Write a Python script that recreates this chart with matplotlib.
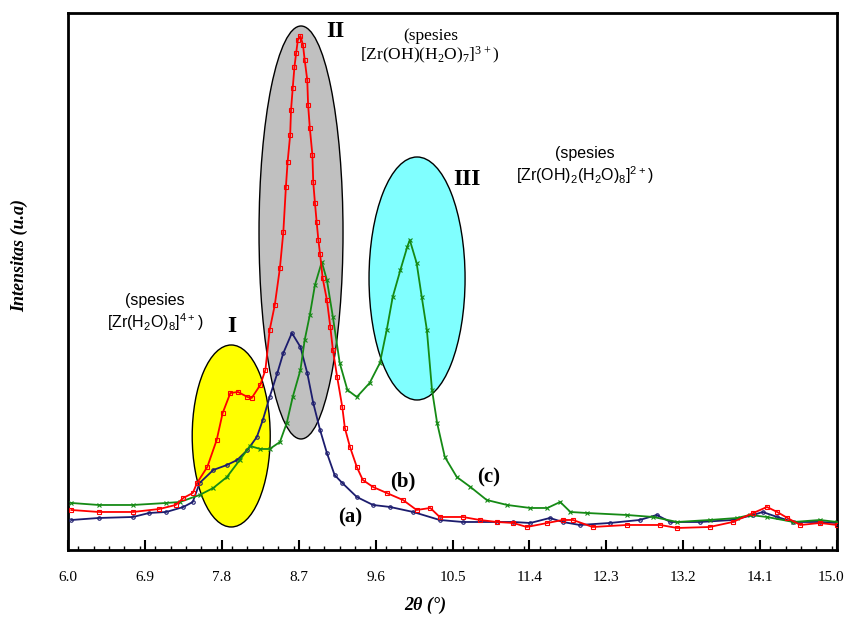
import matplotlib
matplotlib.use('Agg')
import matplotlib.pyplot as plt
import matplotlib.transforms as mtransforms
import numpy as np
from matplotlib.patches import Ellipse
from matplotlib.ticker import MultipleLocator

# 2-theta (deg) and intensity (a.u.)
x_a = [6.04, 6.36, 6.76, 6.95, 7.15, 7.35, 7.46, 7.54, 7.70, 7.86, 7.98, 8.10, 8.21, 8.28,
       8.36, 8.45, 8.52, 8.62, 8.72, 8.80, 8.87, 8.95, 9.03, 9.12, 9.21, 9.38, 9.57, 9.77,
       10.04, 10.35, 10.62, 11.02, 11.21, 11.41, 11.64, 11.79, 11.99, 12.34, 12.69, 12.89,
       13.05, 13.40, 13.78, 14.02, 14.13, 14.30, 14.49, 14.80, 15.0]
y_a = [30, 32, 33, 37, 38, 43, 48, 67, 80, 85, 90, 100, 113, 130,
       153, 177, 197, 217, 203, 177, 147, 120, 97, 75, 67, 53, 45, 43,
       38, 30, 28, 28, 28, 27, 32, 28, 25, 27, 30, 35,
       28, 28, 30, 35, 38, 33, 28, 28, 27]

x_b = [6.04, 6.36, 6.76, 7.07, 7.26, 7.35, 7.46, 7.51, 7.63, 7.74, 7.81, 7.90, 7.99, 8.10,
       8.15, 8.25, 8.31, 8.36, 8.42, 8.48, 8.52, 8.55, 8.57, 8.60, 8.61, 8.63, 8.65, 8.67,
       8.69, 8.72, 8.75, 8.77, 8.80, 8.81, 8.83, 8.86, 8.87, 8.89, 8.91, 8.93, 8.95, 8.98,
       9.03, 9.07, 9.10, 9.15, 9.21, 9.24, 9.30, 9.38, 9.45, 9.57, 9.73, 9.92, 10.08, 10.24,
       10.35, 10.62, 10.82, 11.02, 11.21, 11.37, 11.61, 11.79, 11.91, 12.14, 12.54, 12.93,
       13.13, 13.51, 13.78, 14.02, 14.18, 14.30, 14.42, 14.57, 14.80, 15.0]
y_b = [40, 38, 38, 41, 45, 52, 57, 67, 83, 110, 137, 157, 158, 153,
       152, 165, 180, 220, 245, 282, 318, 363, 388, 415, 440, 462, 483, 497,
       510, 514, 505, 490, 470, 445, 422, 395, 368, 347, 328, 310, 296, 272,
       250, 223, 200, 173, 143, 122, 103, 83, 70, 63, 57, 50, 40, 42,
       33, 33, 30, 28, 27, 23, 27, 30, 30, 23, 25, 25,
       22, 23, 28, 37, 43, 38, 32, 25, 27, 25]

x_c = [6.04, 6.36, 6.76, 7.15, 7.31, 7.54, 7.70, 7.86, 8.01, 8.13, 8.25, 8.36, 8.48, 8.56,
       8.63, 8.72, 8.77, 8.83, 8.89, 8.97, 9.03, 9.10, 9.18, 9.27, 9.38, 9.53, 9.65, 9.73,
       9.80, 9.89, 9.97, 10.00, 10.08, 10.14, 10.20, 10.26, 10.32, 10.41, 10.55, 10.71,
       10.90, 11.14, 11.41, 11.61, 11.76, 11.88, 12.07, 12.54, 12.85, 13.13, 13.51, 13.83,
       13.98, 14.18, 14.49, 14.80, 15.0]
y_c = [47, 45, 45, 47, 48, 55, 62, 73, 90, 104, 101, 101, 108, 127,
       153, 180, 210, 235, 265, 288, 270, 233, 187, 160, 153, 167, 187, 220,
       253, 280, 303, 310, 287, 253, 220, 160, 127, 93, 73, 63,
       50, 45, 42, 42, 48, 38, 37, 35, 33, 28, 30, 32,
       35, 33, 28, 30, 28]

ticks = [6.0, 6.9, 7.8, 8.7, 9.6, 10.5, 11.4, 12.3, 13.2, 14.1, 15.0]

fig = plt.figure(figsize=(8.47, 6.19), dpi=100)
ax = fig.add_axes([0.0803, 0.1115, 0.9079, 0.8675])

# highlighted regions
ax.add_patch(Ellipse((7.91, 114), 0.913, 182, facecolor='#ffff00', edgecolor='black', lw=1, zorder=1))
ax.add_patch(Ellipse((8.727, 317.5), 0.983, 413, facecolor='#c0c0c0', edgecolor='black', lw=1, zorder=1))
ax.add_patch(Ellipse((10.085, 271.5), 1.124, 243, facecolor='#80ffff', edgecolor='black', lw=1, zorder=1))

ax.plot(x_a, y_a, color='#1c1c6e', lw=1.3, marker='o', ms=2.5, mfc='none', mew=0.8, zorder=3)
ax.plot(x_c, y_c, color='#158a15', lw=1.3, marker='x', ms=3, mew=0.8, zorder=3)
ax.plot(x_b, y_b, color='#ff0000', lw=1.3, marker='s', ms=2.5, mfc='none', mew=0.8, zorder=4)

ax.set_xlim(6.0, 15.0)
ax.set_ylim(0, 537)
ax.set_xticks(ticks)
ax.set_xticklabels(['%.1f' % t for t in ticks], family='Liberation Serif', fontsize=11)
ax.xaxis.set_minor_locator(MultipleLocator(0.18))
ax.tick_params(axis='x', which='major', direction='in', length=7, width=1.5, pad=15)
ax.tick_params(axis='x', which='minor', direction='in', length=3, width=1)
ax.set_yticks([])
for s in ax.spines.values():
    s.set_linewidth(2)

# last tick label sits right at the figure edge, nudge it in a little
last = ax.get_xticklabels()[-1]
last.set_transform(last.get_transform() + mtransforms.ScaledTranslation(-6 / 100, 0, fig.dpi_scale_trans))

serif = 'Liberation Serif'
sans = 'Liberation Sans'
ax.text(9.125, 518, 'II', family=serif, fontsize=17, fontweight='bold', ha='center', va='center')
ax.text(10.67, 370, 'III', family=serif, fontsize=17, fontweight='bold', ha='center', va='center')
ax.text(7.92, 223, 'I', family=serif, fontsize=17, fontweight='bold', ha='center', va='center')

ax.text(10.24, 503, '(spesies\n[Zr(OH)(H$\\mathregular{_2}$O)$\\mathregular{_7}$]$\\mathregular{^{3+}}$)',
        family=serif, fontsize=12.5, ha='center', va='center', linespacing=1.1)
ax.text(12.05, 384, '(spesies\n[Zr(OH)$\\mathregular{_2}$(H$\\mathregular{_2}$O)$\\mathregular{_8}$]$\\mathregular{^{2+}}$)',
        family=sans, fontsize=11.5, ha='center', va='center', linespacing=1.2)
ax.text(7.02, 237, '(spesies\n[Zr(H$\\mathregular{_2}$O)$\\mathregular{_8}$]$\\mathregular{^{4+}}$)',
        family=sans, fontsize=11.5, ha='center', va='center', linespacing=1.2)

ax.text(9.30, 32, '(a)', family=serif, fontsize=15, fontweight='bold', ha='center', va='center')
ax.text(9.92, 68, '(b)', family=serif, fontsize=15, fontweight='bold', ha='center', va='center')
ax.text(10.92, 72, '(c)', family=serif, fontsize=15, fontweight='bold', ha='center', va='center')

fig.text(20 / 847, 1 - 255 / 619, 'Intensitas (u.a)', family=serif, fontsize=13, fontweight='bold',
         style='italic', rotation=90, ha='center', va='center')
fig.text(425 / 847, 1 - 605 / 619, '2θ (°)', family=serif, fontsize=13, fontweight='bold',
         style='italic', ha='center', va='center')

fig.savefig('out.png', dpi=100)
